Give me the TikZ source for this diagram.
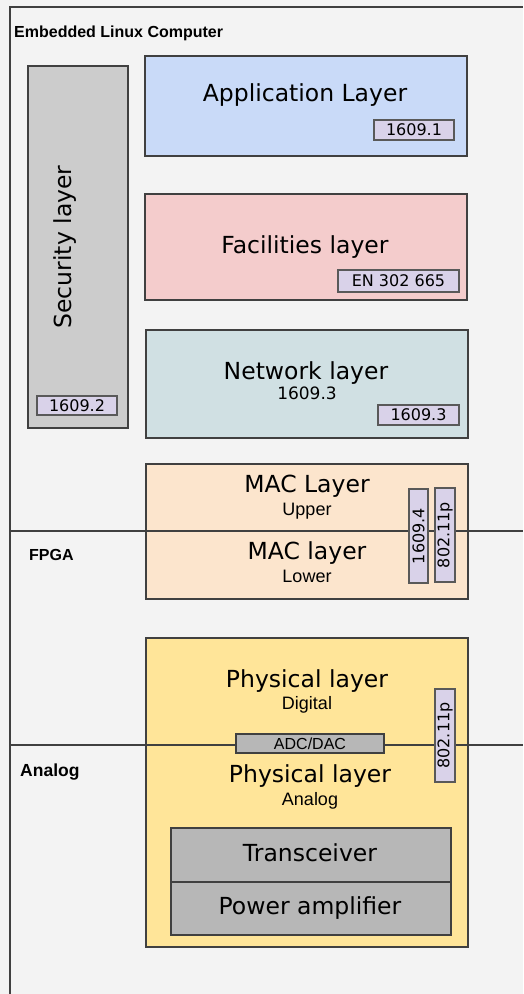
\documentclass[tikz,border=0pt]{standalone}
\usepackage{fontspec}
\setmainfont{DejaVu Sans}
\newfontfamily\arialfont{Liberation Sans}
\usetikzlibrary{positioning}

\definecolor{bgcol}{HTML}{F3F3F3}
\definecolor{edgecol}{HTML}{404040}
\definecolor{tagedge}{HTML}{595959}
\definecolor{appcol}{HTML}{C9DAF8}
\definecolor{faccol}{HTML}{F4CCCC}
\definecolor{netcol}{HTML}{D0E0E3}
\definecolor{maccol}{HTML}{FCE5CD}
\definecolor{phycol}{HTML}{FFE599}
\definecolor{seccol}{HTML}{CCCCCC}
\definecolor{hwcol}{HTML}{B7B7B7}
\definecolor{tagcol}{HTML}{D9D2E9}

\tikzset{
  layerbox/.style={fill=#1,draw=edgecol,line width=2.2pt,anchor=north west,inner sep=0pt},
  tagbox/.style={fill=tagcol,draw=tagedge,line width=1.2pt,inner sep=0pt,
    font=\fontsize{16}{19}\selectfont},
  bigtext/.style={anchor=base,inner sep=0pt,font=\fontsize{23.5}{28}\selectfont},
  subtext/.style={anchor=base,inner sep=0pt,font=\arialfont\fontsize{18}{21}\selectfont},
  zonetext/.style={anchor=base west,inner sep=0pt,font=\arialfont\bfseries\fontsize{16}{19}\selectfont}
}

\begin{document}
\begin{tikzpicture}[x=1pt,y=-1pt]
    %background and frame
    \fill[bgcol] (0,0) rectangle (523,994);
    \useasboundingbox (0,0) rectangle (523,994);
    \coordinate (frameB) at (10,994);
    \coordinate (frameR) at (523,7);
    \draw[edgecol,line width=2pt] (frameB) |- (frameR);

    %layer boxes
    \node (sec) at (27,65) [layerbox=seccol,minimum width=100,minimum height=362] {};
    \node (app) at (144,55) [layerbox=appcol,minimum width=322,minimum height=100] {};
    \node (fac) at (144,193) [layerbox=faccol,minimum width=322,minimum height=106] {};
    \node (net) at (145,329) [layerbox=netcol,minimum width=322,minimum height=108] {};
    \node (mac) at (145,463) [layerbox=maccol,minimum width=322,minimum height=135] {};
    \node (phy) at (145,637) [layerbox=phycol,minimum width=322,minimum height=309] {};
    \node (trx) at (170,827) [layerbox=hwcol,minimum width=280,minimum height=54] {};
    \node (pa) at (170,881) [layerbox=hwcol,minimum width=280,minimum height=53] {};

    %domain borders
    \coordinate (fpgaL) at (10,531);
    \coordinate (fpgaR) at (523,531);
    \coordinate (anaL) at (10,745);
    \coordinate (anaR) at (523,745);
    \draw[edgecol,line width=2pt] (fpgaL) -- (fpgaR);
    \draw[edgecol,line width=2pt] (anaL) -- (anaR);

    %standards
    \node (t1) at (414,130) [tagbox,minimum width=80,minimum height=20] {1609.1};
    \node (t2) at (77,405.5) [tagbox,minimum width=80,minimum height=19] {1609.2};
    \node (t3) at (398.5,281) [tagbox,minimum width=121,minimum height=22] {EN 302 665};
    \node (t4) at (418.5,415) [tagbox,minimum width=81,minimum height=20] {1609.3};
    \node (t5) at (418.5,536) [tagbox,rotate=90,minimum width=94,minimum height=19] {1609.4};
    \node (t6) at (445,535) [tagbox,rotate=90,minimum width=94,minimum height=20] {802.11p};
    \node (t7) at (445,735.5) [tagbox,rotate=90,minimum width=93,minimum height=20] {802.11p};
    \node (adc) at (310,743.5) [fill=hwcol,draw=edgecol,line width=2pt,inner sep=0pt,
      minimum width=148,minimum height=19,font=\arialfont\fontsize{16}{19}\selectfont] {ADC/DAC};

    %labels
    \node (lnx) at (14,37) [zonetext] {Embedded Linux Computer};
    \node (fpga) at (29,560) [zonetext] {FPGA};
    \node (ana) at (20,776) [zonetext,font=\arialfont\bfseries\fontsize{17.5}{20}\selectfont] {Analog};
    \node (secT) at (65,247) [rotate=90,inner sep=0pt,font=\fontsize{23.5}{28}\selectfont] {Security layer};
    \node (appT) at (305,101) [bigtext] {Application Layer};
    \node (facT) at (305,253) [bigtext] {Facilities layer};
    \node (netT) at (306,379) [bigtext] {Network layer};
    \node (netS) at (307,399) [bigtext,font=\fontsize{17}{20}\selectfont] {1609.3};
    \node (macT) at (307,492) [bigtext] {MAC Layer};
    \node (macU) at (307,515) [subtext] {Upper};
    \node (macL) at (307,559) [bigtext] {MAC layer};
    \node (macS) at (307,582) [subtext] {Lower};
    \node (phyD) at (307,687) [bigtext] {Physical layer};
    \node (phyDs) at (307,709) [subtext] {Digital};
    \node (phyA) at (310,782) [bigtext] {Physical layer};
    \node (phyAs) at (310,805) [subtext] {Analog};
    \node (trxT) at (310,861) [bigtext] {Transceiver};
    \node (paT) at (310,914) [bigtext] {Power amplifier};
\end{tikzpicture}
\end{document}
